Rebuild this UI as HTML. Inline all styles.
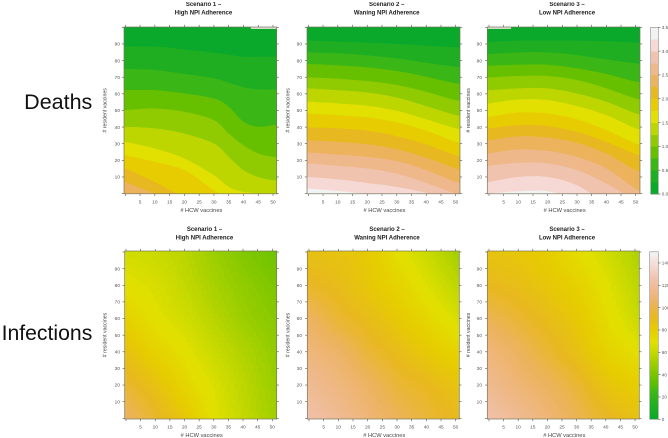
<!DOCTYPE html>
<html>
<head>
<meta charset="utf-8">
<title>Deaths and infections by scenario</title>
<style>
html,body{margin:0;padding:0;background:#fff;width:668px;height:438px;overflow:hidden}
svg{display:block;position:absolute;left:0;top:0;font-family:"Liberation Sans",sans-serif;filter:blur(0.3px)}
</style>
</head>
<body>
<svg id="figure" width="668" height="438" viewBox="0 0 668 438" xmlns="http://www.w3.org/2000/svg">
  <text x="92.3" y="109" text-anchor="end" font-size="21.5" fill="#111">Deaths</text>
  <text x="92.3" y="340" text-anchor="end" font-size="21.2" fill="#111">Infections</text>
</svg>
<script>
/* ---------- data ---------- */
const scenarioLine1 = ["Scenario 1 \u2013", "Scenario 2 \u2013", "Scenario 3 \u2013"];
const scenarioLine2 = ["High NPI Adherence", "Waning NPI Adherence", "Low NPI Adherence"];
const hcwTicks = [0, 5, 10, 15, 20, 25, 30, 35, 40, 45, 50];
const residentTicks = [0, 10, 20, 30, 40, 50, 60, 70, 80, 90, 100];
const deathLegendTicks = [0, 0.5, 1, 1.5, 2, 2.5, 3, 3.5];
const infectionLegendTicks = [0, 20, 40, 60, 80, 100, 120, 140];
const deathLevelStep = 0.25;

/* resident vaccines at which deaths cross each level (0.25, 0.5, ...), per HCW position */
const deathsS1Hcw = [0, 10, 20, 30, 35, 40, 45, 50];
const deathsS1Contours = [
  [88.4, 88.4, 86.7, 84.7, 83.5, 82.3, 82.3, 82.3],
  [74.9, 74.3, 71.9, 69.3, 66.7, 63.9, 62.7, 62.7],
  [62.2, 62.2, 60.2, 57.2, 52.2, 43.2, 40.2, 41.2],
  [50.2, 51.2, 49.2, 44.2, 36.1, 29.1, 24.1, 22.1],
  [40.2, 39.2, 36.1, 30.1, 22.1, 14.1, 10, 8],
  [31.1, 27.1, 21.1, 11, 4, 1, 0, -4],
  [23.1, 19.1, 14.1, 2, -2, -6, -10, -14],
  [15.1, 7, -2, -6, -8, -10, -12, -14],
  [7, 0, -7, -12, -14, -16, -18, -20]
];
const deathsS2Hcw = [0, 10, 20, 30, 40, 50];
const deathsS2Contours = [
  [92, 91.4, 90.8, 90, 89, 88],
  [85, 84.3, 83.1, 81.3, 78.7, 76.3],
  [77.9, 77.1, 75.9, 73.7, 70.3, 66.3],
  [69.9, 69.1, 67.7, 65.3, 61.2, 56.2],
  [63.3, 62.2, 60.8, 57.8, 52.6, 47.2],
  [55.2, 54.2, 52.8, 49.8, 44.6, 39.2],
  [48.2, 47.2, 45.8, 42.8, 37.8, 31.1],
  [39.8, 39.2, 37.8, 34.5, 29.5, 23.1],
  [32.1, 31.1, 29.7, 26.7, 21.7, 15.1],
  [24.7, 23.5, 22.1, 19.5, 14.1, 7],
  [18.1, 16.7, 15.1, 12, 6.4, 0],
  [10, 8.6, 6.4, 4, 0.4, -5],
  [3, 1.6, -0.4, -4, -8, -12]
];
const deathsS3Hcw = [0, 10, 20, 30, 40, 50];
const deathsS3Contours = [
  [91, 92, 92, 92, 91.6, 90.8],
  [83.9, 84.9, 84.9, 83.3, 80.7, 78.3],
  [76.9, 77.5, 77.5, 75.3, 71.9, 67.3],
  [69.9, 70.7, 70.7, 68.3, 63.3, 57.2],
  [62.2, 63.3, 63.3, 60.2, 55.2, 48.2],
  [54.2, 56.6, 56.2, 52.6, 47.2, 39.2],
  [46.2, 48.8, 48.2, 44.6, 38.2, 30.1],
  [39.2, 41.2, 40.6, 37.1, 31.1, 23.7],
  [32.1, 34.5, 33.7, 30.5, 24.1, 14.1],
  [24.1, 26.5, 25.7, 22.1, 15.1, 3],
  [16.7, 18.5, 18.1, 14.1, 6, -4],
  [7, 10, 10, 5, -6, -14],
  [0, 1.4, 1.4, -4, -12, -20]
];
/* missing-data strips along the top edge: [hcw from, hcw to, resident from] */
const deathsS1Missing = [42.5, 52, 99];
const deathsS2Missing = null;
const deathsS3Missing = [-1, 7.5, 99];

/* infection surface samples: rows follow infectionResident, columns follow infectionHcw */
const infectionHcw = [0, 10, 20, 30, 40, 50];
const infectionResident = [0, 20, 40, 60, 80, 100];
const infectionsS1 = [
  [105, 95, 84, 70, 60, 52],
  [96, 87, 76, 67, 58, 50],
  [87, 78, 70, 62, 55, 48],
  [78, 70, 64, 57, 50, 45],
  [70, 66, 60, 53, 47, 42],
  [64, 62, 57, 50, 43, 38]
];
const infectionsS2 = [
  [125, 118, 110, 103, 97, 92],
  [118, 112, 105, 97, 92, 86],
  [111, 106, 97, 90, 83, 77],
  [105, 96, 90, 83, 75, 67],
  [94, 90, 84, 77, 68, 59],
  [88, 86, 82, 71, 62, 52]
];
const infectionsS3 = [
  [125, 118, 110, 102, 94, 88],
  [117, 110, 104, 96, 86, 80],
  [111, 104, 96, 88, 78, 71],
  [102, 96, 90, 83, 73, 63],
  [92, 89, 84, 78, 69, 59],
  [86, 84, 80, 72, 64, 55]
];

/* ---------- layout ---------- */
const topFrames = [
  {left: 124, right: 276.7, x0: 125.3, x50: 273, titleX: 203.5, yTitleX: 105, labelRight: 120},
  {left: 307, right: 460, x0: 308.3, x50: 455.7, titleX: 386.7, yTitleX: 288, labelRight: 302},
  {left: 487.3, right: 640, x0: 489, x50: 635.7, titleX: 567, yTitleX: 468.5, labelRight: 482}
];
const bottomFrames = [
  {left: 124.7, right: 276.7, x0: 126, x50: 272.3, titleX: 204.5, yTitleX: 105, labelRight: 120},
  {left: 307.3, right: 459.3, x0: 309, x50: 455.7, titleX: 387, yTitleX: 288, labelRight: 302},
  {left: 487.3, right: 639.3, x0: 489, x50: 635, titleX: 567, yTitleX: 468.5, labelRight: 482}
];
const topRow = {top: 27, bottom: 193.8, y0: 193.6, y100: 27.3, line1: 6.2, line2: 14.4, tickLabel: 203.6, xTitle: 212.2};
const bottomRow = {top: 251, bottom: 419, y0: 418.3, y100: 252, line1: 231, line2: 239.3, tickLabel: 428.6, xTitle: 437};

/* palette colour stops, lowest to highest */
const paletteStops = [
  [10, 169, 44], [31, 174, 34], [58, 183, 22], [102, 192, 0], [143, 203, 0],
  [189, 214, 0], [226, 224, 0], [230, 204, 0], [232, 184, 32], [236, 179, 92],
  [239, 184, 138], [240, 195, 174], [246, 217, 212], [242, 242, 242]
];

/* ---------- helpers ---------- */
const svg = document.getElementById('figure');
const NS = 'http://www.w3.org/2000/svg';
function mk(tag, attrs, parent) {
  const el = document.createElementNS(NS, tag);
  for (const k in attrs) el.setAttribute(k, attrs[k]);
  (parent || svg).appendChild(el);
  return el;
}
function paletteAt(t) {
  const f = Math.max(0, Math.min(1, t)) * (paletteStops.length - 1);
  const i = Math.min(paletteStops.length - 2, Math.floor(f)), u = f - i;
  const a = paletteStops[i], b = paletteStops[i + 1];
  return 'rgb(' + [0, 1, 2].map(c => Math.round(a[c] + (b[c] - a[c]) * u)).join(',') + ')';
}
function palette(n) {
  const out = [];
  for (let i = 0; i < n; i++) out.push(paletteAt(i / (n - 1)));
  return out;
}
function xAxis(frame) { const s = (frame.x50 - frame.x0) / 50; return v => frame.x0 + v * s; }
function yAxis(row) { const s = (row.y0 - row.y100) / 100; return v => row.y0 - v * s; }

function cubic(vals, f) {
  /* Catmull-Rom through a row of samples with linear continuation at the ends */
  const n = vals.length;
  const i = Math.max(0, Math.min(n - 2, Math.floor(f)));
  const t = f - i;
  const p1 = vals[i], p2 = vals[i + 1];
  const p0 = i > 0 ? vals[i - 1] : 2 * p1 - p2;
  const p3 = i < n - 2 ? vals[i + 2] : 2 * p2 - p1;
  return 0.5 * (2 * p1 + (p2 - p0) * t + (2 * p0 - 5 * p1 + 4 * p2 - p3) * t * t + (3 * p1 - p0 - 3 * p2 + p3) * t * t * t);
}
function gridPos(axis, v) {
  const step = axis[1] - axis[0];
  return (v - axis[0]) / step;
}
function surface(grid, hcw, res) {
  const fx = gridPos(infectionHcw, hcw), fy = gridPos(infectionResident, res);
  return cubic(grid.map(row => cubic(row, fx)), fy);
}
function smoothBelow(pts, bottomY) {
  let d = 'M' + pts[0][0].toFixed(2) + ',' + bottomY + 'L' + pts[0][0].toFixed(2) + ',' + pts[0][1].toFixed(2);
  for (let i = 0; i < pts.length - 1; i++) {
    const p0 = pts[Math.max(i - 1, 0)], p1 = pts[i], p2 = pts[i + 1], p3 = pts[Math.min(i + 2, pts.length - 1)];
    const c1x = p1[0] + (p2[0] - p0[0]) / 6, c1y = p1[1] + (p2[1] - p0[1]) / 6;
    const c2x = p2[0] - (p3[0] - p1[0]) / 6, c2y = p2[1] - (p3[1] - p1[1]) / 6;
    d += 'C' + c1x.toFixed(2) + ',' + c1y.toFixed(2) + ' ' + c2x.toFixed(2) + ',' + c2y.toFixed(2) + ' ' + p2[0].toFixed(2) + ',' + p2[1].toFixed(2);
  }
  return d + 'L' + pts[pts.length - 1][0].toFixed(2) + ',' + bottomY + 'Z';
}

function drawFrameAndAxes(g, frame, row, idx) {
  const x = xAxis(frame), y = yAxis(row);
  const box = mk('rect', {x: frame.left, y: row.top, width: frame.right - frame.left, height: row.bottom - row.top, fill: 'none', stroke: '#77775c', 'stroke-width': 0.7}, g);
  
  
  hcwTicks.forEach(v => {
    const bottomTick = mk('line', {x1: x(v), x2: x(v), y1: row.bottom, y2: row.bottom + 2.2, stroke: '#555', 'stroke-width': 0.6}, g);
    
    
    const topTick = mk('line', {x1: x(v), x2: x(v), y1: row.top, y2: row.top - 2.2, stroke: '#555', 'stroke-width': 0.6}, g);
    
    
    if (v > 0) {
      const t = mk('text', {x: x(v), y: row.tickLabel, 'text-anchor': 'middle', 'font-size': 4.8, fill: '#555'}, g);
      
      
      t.textContent = v;
    }
  });
  residentTicks.forEach(v => {
    const leftTick = mk('line', {x1: frame.left, x2: frame.left - 2.2, y1: y(v), y2: y(v), stroke: '#555', 'stroke-width': 0.6}, g);
    
    
    const rightTick = mk('line', {x1: frame.right, x2: frame.right + 2.2, y1: y(v), y2: y(v), stroke: '#555', 'stroke-width': 0.6}, g);
    
    
    if (v > 0 && v < 100) {
      const t = mk('text', {x: frame.labelRight, y: y(v) + 1.7, 'text-anchor': 'end', 'font-size': 4.8, fill: '#555'}, g);
      
      
      t.textContent = v;
    }
  });
  const l1 = mk('text', {x: frame.titleX, y: row.line1, 'text-anchor': 'middle', 'font-size': 6, 'font-weight': 'bold', fill: '#222'}, g);
  
  
  l1.textContent = scenarioLine1[idx];
  const l2 = mk('text', {x: frame.titleX, y: row.line2, 'text-anchor': 'middle', 'font-size': 6, 'font-weight': 'bold', fill: '#222'}, g);
  
  
  l2.textContent = scenarioLine2[idx];
  const xt = mk('text', {x: (frame.left + frame.right) / 2 + 1, y: row.xTitle, 'text-anchor': 'middle', 'font-size': 5.7, fill: '#444'}, g);
  
  
  xt.textContent = '# HCW vaccines';
  const cy = (row.top + row.bottom) / 2;
  const yt = mk('text', {x: frame.yTitleX, y: cy, 'text-anchor': 'middle', 'font-size': 5.2, fill: '#444', transform: 'rotate(-90 ' + frame.yTitleX + ' ' + cy + ')', 'dominant-baseline': 'middle'}, g);
  
  
  yt.textContent = '# resident vaccines';
}

function clipFor(id, frame, row) {
  const c = mk('clipPath', {id: id});
  mk('rect', {x: frame.left, y: row.top, width: frame.right - frame.left, height: row.bottom - row.top}, c);
}

/* ---------- deaths row ---------- */
const bandColors = palette(14);
function drawDeaths(idx, hcw, contours, missing) {
  const frame = topFrames[idx], x = xAxis(frame), y = yAxis(topRow);
  const id = 'clip-deaths-' + idx;
  clipFor(id, frame, topRow);
  const g = mk('g', {});
  
  
  const plot = mk('g', {'clip-path': 'url(#' + id + ')'}, g);
  const base = mk('rect', {x: frame.left, y: topRow.top, width: frame.right - frame.left, height: topRow.bottom - topRow.top, fill: bandColors[0]}, plot);
  
  
  contours.forEach((vals, k) => {
    const pts = hcw.map((h, i) => [x(h), y(vals[i])]);
    pts.unshift([frame.left - 3, pts[0][1]]);
    pts.push([frame.right + 3, pts[pts.length - 1][1]]);
    const band = mk('path', {d: smoothBelow(pts, topRow.bottom + 30), fill: bandColors[k + 1]}, plot);
    
    band.setAttribute('data-level', (k + 1) * deathLevelStep);
    
  });
  if (missing) {
    const strip = mk('rect', {x: x(missing[0]), y: topRow.top, width: x(missing[1]) - x(missing[0]), height: y(missing[2]) - topRow.top, fill: '#dcdcd0'}, plot);
    
    
  }
  drawFrameAndAxes(g, frame, topRow, idx);
}
drawDeaths(0, deathsS1Hcw, deathsS1Contours, deathsS1Missing);
drawDeaths(1, deathsS2Hcw, deathsS2Contours, deathsS2Missing);
drawDeaths(2, deathsS3Hcw, deathsS3Contours, deathsS3Missing);

/* ---------- infections row ---------- */
const heatColors = palette(100);
const infectionMax = 150;
function heatColor(v) {
  const i = Math.max(0, Math.min(heatColors.length - 1, Math.floor(v / infectionMax * heatColors.length)));
  return heatColors[i];
}
function drawInfections(idx, grid) {
  const frame = bottomFrames[idx], x = xAxis(frame), y = yAxis(bottomRow);
  const id = 'clip-infections-' + idx;
  clipFor(id, frame, bottomRow);
  const g = mk('g', {});
  
  
  const plot = mk('g', {'clip-path': 'url(#' + id + ')', 'shape-rendering': 'crispEdges'}, g);
  for (let h = -1; h <= 52; h++) {
    for (let r = -1; r <= 101; r++) {
      const cell = mk('rect', {x: x(h - 0.5), y: y(r + 0.5), width: x(h + 0.5) - x(h - 0.5) + 0.5, height: y(r - 0.5) - y(r + 0.5) + 0.5, fill: heatColor(surface(grid, h, r))}, plot);
      
      
    }
  }
  drawFrameAndAxes(g, frame, bottomRow, idx);
}
drawInfections(0, infectionsS1);
drawInfections(1, infectionsS2);
drawInfections(2, infectionsS3);

/* ---------- colour keys ---------- */
function drawLegend(name, left, right, top, bottom, colors, maxV, ticks, digits) {
  const g = mk('g', {});
  
  
  const yv = v => bottom - v / maxV * (bottom - top);
  colors.forEach((c, i) => {
    const a = i / colors.length * maxV, b = (i + 1) / colors.length * maxV;
    const seg = mk('rect', {x: left, y: yv(b), width: right - left, height: yv(a) - yv(b) + 0.3, fill: c, 'shape-rendering': 'crispEdges'}, g);
    
    
  });
  const box = mk('rect', {x: left, y: top, width: right - left, height: bottom - top, fill: 'none', stroke: '#8a8a8a', 'stroke-width': 0.6}, g);
  
  
  ticks.forEach(v => {
    const tick = mk('line', {x1: right, x2: right + 2.2, y1: yv(v), y2: yv(v), stroke: '#555', 'stroke-width': 0.6}, g);
    
    
    const t = mk('text', {x: right + 3.5, y: yv(v) + 1.7, 'font-size': 4.6, fill: '#555'}, g);
    
    
    t.textContent = v.toFixed(digits);
  });
}
drawLegend('deaths-colour-key', 650.7, 658.3, 27.3, 194, bandColors, 3.5, deathLegendTicks, 1);
drawLegend('infections-colour-key', 649.7, 658.3, 251.8, 419.3, heatColors, infectionMax, infectionLegendTicks, 0);
</script>
</body>
</html>
